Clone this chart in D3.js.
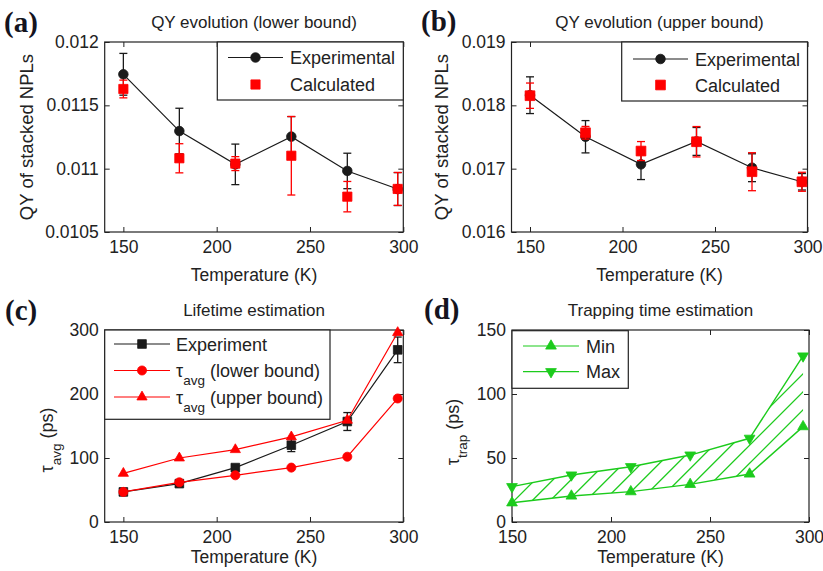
<!DOCTYPE html>
<html>
<head>
<meta charset="utf-8">
<script src="https://cdn.jsdelivr.net/npm/d3@7/dist/d3.min.js"></script>
<style>
  body { margin: 0; background: #fff; }
  svg text { font-family: "Liberation Sans", Arial, sans-serif; }
</style>
</head>
<body>
<svg id="fig" width="823" height="571"></svg>
<script>
//
// Data
//
var temps = [150, 180, 210, 240, 270, 297];
var tempTicks = [150, 200, 250, 300];

// (a) QY lower bound
var qyLowExp = [0.011745, 0.011297, 0.011034, 0.011253, 0.010982, 0.010839];
var qyLowExpErr = [0.000165, 0.00018, 0.00016, 0.000158, 0.00014, 0.00013];
var qyLowCalc = [0.011629, 0.011082, 0.011040, 0.011102, 0.010779, 0.010840];
var qyLowCalcErr = [0.00007, 0.000115, 0.000055, 0.00031, 0.00012, 0.00013];
var qyLowTicks = [0.0105, 0.011, 0.0115, 0.012];
var qyLowTickLabels = ["0.0105", "0.011", "0.0115", "0.012"];

// (b) QY upper bound
var qyUpExp = [0.01816, 0.017504, 0.017068, 0.01743, 0.017015, 0.016793];
var qyUpExpErr = [0.00029, 0.000255, 0.00024, 0.00022, 0.00022, 0.00013];
var qyUpCalc = [0.018152, 0.017567, 0.017278, 0.017425, 0.016952, 0.016793];
var qyUpCalcErr = [0.0002, 0.0001, 0.00015, 0.00024, 0.0003, 0.00015];
var qyUpTicks = [0.016, 0.017, 0.018, 0.019];
var qyUpTickLabels = ["0.016", "0.017", "0.018", "0.019"];

// (c) lifetimes (ps)
var tauExp = [47, 60, 85, 120, 157, 269];
var tauExpErr = [4, 4, 4, 10, 14, 20];
var tauLow = [47, 62, 73, 85, 102, 193];
var tauUp = [76, 100, 113, 133, 159, 296];
var tauTicks = [0, 100, 200, 300];

// (d) trapping time (ps)
var trapMin = [15, 20.3, 23.7, 29.4, 37.5, 74.5];
var trapMax = [27.6, 36.7, 43.2, 52.3, 65.4, 129.7];
var trapTicks = [0, 50, 100, 150];

var RED = "#ff0000", BLACK = "#1a1a1a", GREEN = "#1ccb1c";
var TICK_FS = 17.5, LABEL_FS = 17.5, LEGEND_FS = 18;

var svg = d3.select("#fig");

// builds one axes box with ticks, labels and title; returns scales + group
function makeAxes(opt) {
    var x = d3.scaleLinear().domain(opt.xDomain).range(opt.xRange);
    var y = d3.scaleLinear().domain(opt.yDomain).range(opt.yRange);
    var g = svg.append("g");
    var x0 = opt.xRange[0], x1 = opt.xRange[1], y0 = opt.yRange[1], y1 = opt.yRange[0];

    var ax = d3.axisBottom(x).tickValues(tempTicks).tickSizeInner(-5).tickSizeOuter(0).tickPadding(9);
    g.append("g").attr("transform", "translate(0," + y1 + ")").call(ax);
    g.append("g").attr("transform", "translate(0," + y0 + ")")
        .call(d3.axisTop(x).tickValues(tempTicks).tickSizeInner(-5).tickSizeOuter(0).tickFormat(""));
    var ay = d3.axisLeft(y).tickValues(opt.yTicks).tickSizeInner(-5).tickSizeOuter(0).tickPadding(6)
        .tickFormat(function(d, i) { return opt.yLabels[i]; });
    g.append("g").attr("transform", "translate(" + x0 + ",0)").call(ay);
    g.append("g").attr("transform", "translate(" + x1 + ",0)")
        .call(d3.axisRight(y).tickValues(opt.yTicks).tickSizeInner(-5).tickSizeOuter(0).tickFormat(""));
    g.selectAll(".domain").remove();
    g.selectAll(".tick line").attr("stroke", "#222");
    g.selectAll(".tick text").attr("font-size", TICK_FS).attr("fill", "#222");

    g.append("rect").attr("x", x0).attr("y", y0).attr("width", x1 - x0).attr("height", y1 - y0)
        .attr("fill", "none").attr("stroke", "#222").attr("stroke-width", 1.2);

    g.append("text").attr("x", (x0 + x1) / 2).attr("y", y0 - 14).attr("text-anchor", "middle")
        .attr("font-size", 17).attr("fill", "#222").text(opt.title);
    g.append("text").attr("x", (x0 + x1) / 2).attr("y", y1 + opt.xLabelOff).attr("text-anchor", "middle")
        .attr("font-size", LABEL_FS).attr("fill", "#222").text("Temperature (K)");

    var yl = g.append("text").attr("transform", "translate(" + opt.yLabelX + "," + opt.yLabelY + ") rotate(-90)")
        .attr("text-anchor", "middle").attr("font-size", opt.ySub ? 18 : 18.5).attr("fill", "#222");
    if (opt.ySub) {
        yl.append("tspan").text("\u03c4");
        yl.append("tspan").attr("baseline-shift", "sub").attr("font-size", 13.5).text(opt.ySub);
        yl.append("tspan").text(" (ps)");
    } else {
        yl.text(opt.yLabel);
    }

    svg.append("text").attr("x", opt.tagX).attr("y", opt.tagY)
        .style("font-family", "'Liberation Serif', 'Times New Roman', serif")
        .attr("font-weight", "bold").attr("font-size", 29).attr("fill", "#14141e").text(opt.tag);

    return { x: x, y: y, g: g, box: [x0, y0, x1, y1] };
}

function drawLine(a, vals, color, w) {
    var line = d3.line().x(function(d, i) { return a.x(temps[i]); }).y(function(d) { return a.y(d); });
    a.g.append("path").datum(vals).attr("d", line).attr("fill", "none")
        .attr("stroke", color).attr("stroke-width", w || 1.2);
}

function drawErr(a, vals, errs, color) {
    var eg = a.g.append("g").attr("stroke", color).attr("stroke-width", 1.3);
    vals.forEach(function(v, i) {
        var cx = a.x(temps[i]), top = a.y(v + errs[i]), bot = a.y(v - errs[i]);
        eg.append("line").attr("x1", cx).attr("x2", cx).attr("y1", top).attr("y2", bot);
        eg.append("line").attr("x1", cx - 4).attr("x2", cx + 4).attr("y1", top).attr("y2", top);
        eg.append("line").attr("x1", cx - 4).attr("x2", cx + 4).attr("y1", bot).attr("y2", bot);
    });
}

function symbolPath(type, size) {
    if (type === "circle") return d3.symbol().type(d3.symbolCircle).size(size)();
    if (type === "square") return d3.symbol().type(d3.symbolSquare).size(size)();
    return d3.symbol().type(d3.symbolTriangle).size(size)();
}

function drawMarkers(a, vals, type, size, color) {
    a.g.selectAll(null).data(vals).enter().append("path")
        .attr("d", symbolPath(type, size))
        .attr("transform", function(d, i) {
            return "translate(" + a.x(temps[i]) + "," + a.y(d) + ")" + (type === "down" ? " rotate(180)" : "");
        })
        .attr("fill", color).attr("stroke", color).attr("stroke-width", 0.8);
}

// legend: entries {label, sub, rest, color, marker, size, line}
function drawLegend(a, box, entries, lineX, textX, rowY) {
    a.g.append("rect").attr("x", box[0]).attr("y", box[1]).attr("width", box[2] - box[0]).attr("height", box[3] - box[1])
        .attr("fill", "#fff").attr("stroke", "#222").attr("stroke-width", 1.2);
    entries.forEach(function(e, i) {
        var yy = rowY[i];
        if (e.line) {
            a.g.append("line").attr("x1", lineX[0]).attr("x2", lineX[1]).attr("y1", yy).attr("y2", yy)
                .attr("stroke", e.color).attr("stroke-width", 1.2);
        }
        a.g.append("path").attr("d", symbolPath(e.marker, e.size))
            .attr("transform", "translate(" + (lineX[0] + lineX[1]) / 2 + "," + yy + ")" + (e.marker === "down" ? " rotate(180)" : ""))
            .attr("fill", e.color).attr("stroke", e.color).attr("stroke-width", 0.8);
        var t = a.g.append("text").attr("x", textX).attr("y", yy + 6.5).attr("font-size", LEGEND_FS).attr("fill", "#222");
        if (e.sub) {
            t.append("tspan").text("\u03c4");
            t.append("tspan").attr("baseline-shift", "sub").attr("font-size", 13.5).text(e.sub);
            t.append("tspan").text(e.rest);
        } else {
            t.text(e.label);
        }
    });
}

//
// (a)
//
var pa = makeAxes({
    xDomain: [140, 300], xRange: [104.7, 403.3], yDomain: [0.0105, 0.012], yRange: [232, 42],
    yTicks: qyLowTicks, yLabels: qyLowTickLabels, title: "QY evolution (lower bound)", xLabelOff: 49,
    yLabel: "QY of stacked NPLs", yLabelX: 33, yLabelY: 137, tag: "(a)", tagX: 4, tagY: 32
});
drawLine(pa, qyLowExp, BLACK);
drawErr(pa, qyLowExp, qyLowExpErr, BLACK);
drawMarkers(pa, qyLowExp, "circle", 72, BLACK);
drawErr(pa, qyLowCalc, qyLowCalcErr, RED);
drawMarkers(pa, qyLowCalc, "square", 85, RED);
drawLegend(pa, [217.3, 42, 403.3, 100], [
    { label: "Experimental", color: BLACK, marker: "circle", size: 72, line: true },
    { label: "Calculated", color: RED, marker: "square", size: 85, line: false }
], [228, 283], 290, [57.5, 84.5]);

//
// (b)
//
var pb = makeAxes({
    xDomain: [140, 300], xRange: [511.5, 807.5], yDomain: [0.016, 0.019], yRange: [232, 42],
    yTicks: qyUpTicks, yLabels: qyUpTickLabels, title: "QY evolution (upper bound)", xLabelOff: 49,
    yLabel: "QY of stacked NPLs", yLabelX: 448, yLabelY: 137, tag: "(b)", tagX: 421, tagY: 31
});
drawLine(pb, qyUpExp, BLACK);
drawErr(pb, qyUpExp, qyUpExpErr, BLACK);
drawMarkers(pb, qyUpExp, "circle", 72, BLACK);
drawErr(pb, qyUpCalc, qyUpCalcErr, RED);
drawMarkers(pb, qyUpCalc, "square", 95, RED);
drawLegend(pb, [621.7, 42, 807.5, 101], [
    { label: "Experimental", color: BLACK, marker: "circle", size: 72, line: true },
    { label: "Calculated", color: RED, marker: "square", size: 95, line: false }
], [633, 688], 695, [59, 85]);

//
// (c)
//
var pc = makeAxes({
    xDomain: [140, 300], xRange: [104.7, 403.3], yDomain: [0, 300], yRange: [522, 330],
    yTicks: tauTicks, yLabels: tauTicks.map(String), title: "Lifetime estimation", xLabelOff: 41,
    ySub: "avg", yLabelX: 53, yLabelY: 440, tag: "(c)", tagX: 5, tagY: 320
});
drawLine(pc, tauExp, BLACK);
drawErr(pc, tauExp, tauExpErr, BLACK);
drawMarkers(pc, tauExp, "square", 75, BLACK);
drawLine(pc, tauLow, RED);
drawMarkers(pc, tauLow, "circle", 65, RED);
drawLine(pc, tauUp, RED);
drawMarkers(pc, tauUp, "up", 45, RED);
drawLegend(pc, [104.7, 330, 330, 419.3], [
    { label: "Experiment", color: BLACK, marker: "square", size: 75, line: true },
    { sub: "avg", rest: " (lower bound)", color: RED, marker: "circle", size: 65, line: true },
    { sub: "avg", rest: " (upper bound)", color: RED, marker: "up", size: 45, line: true }
], [114, 170], 176, [344, 370.5, 397]);

//
// (d)
//
var pd = makeAxes({
    xDomain: [150, 300], xRange: [512, 809], yDomain: [0, 150], yRange: [522, 330],
    yTicks: trapTicks, yLabels: trapTicks.map(String), title: "Trapping time estimation", xLabelOff: 41,
    ySub: "trap", yLabelX: 459, yLabelY: 432, tag: "(d)", tagX: 424, tagY: 319
});

// hatched band between Min and Max
var bandPts = trapMax.map(function(v, i) { return [pd.x(temps[i]), pd.y(v)]; })
    .concat(trapMin.map(function(v, i) { return [pd.x(temps[i]), pd.y(v)]; }).reverse());
svg.append("defs").append("clipPath").attr("id", "bandClip")
    .append("path").attr("d", "M" + bandPts.join("L") + "Z");
var hatch = pd.g.append("g").attr("clip-path", "url(#bandClip)");
var c0 = pd.x(temps[0]) + pd.y(trapMin[0]);
var yTopPx = pd.y(150), yBotPx = pd.y(0);
for (var c = c0 - 18 * 10; c < c0 + 18 * 30; c += 18) {
    hatch.append("line").attr("x1", c - yBotPx).attr("y1", yBotPx).attr("x2", c - yTopPx).attr("y2", yTopPx)
        .attr("stroke", GREEN).attr("stroke-width", 1.3);
}
drawLine(pd, trapMin, GREEN, 1.4);
drawMarkers(pd, trapMin, "up", 50, GREEN);
drawLine(pd, trapMax, GREEN, 1.4);
drawMarkers(pd, trapMax, "down", 50, GREEN);
drawLegend(pd, [512, 330.7, 628.3, 388.3], [
    { label: "Min", color: GREEN, marker: "up", size: 50, line: true },
    { label: "Max", color: GREEN, marker: "down", size: 50, line: true }
], [523, 579], 586, [346, 371.7]);
</script>
</body>
</html>
